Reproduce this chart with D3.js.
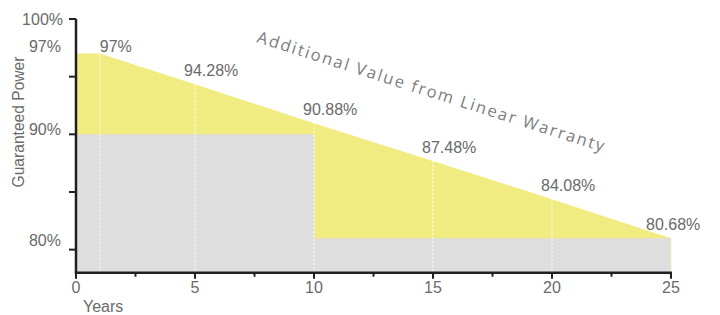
<!DOCTYPE html>
<html>
  <head>
    <meta charset="utf-8">
    <title>Linear Warranty</title>
    <style>
      body { margin: 0; background: #fff; }
      text { font-family: "Liberation Sans", Arial, sans-serif; }
    </style>
  </head>
  <body>
    <script src="https://d3js.org/d3.v7.min.js"></script>
    <script>
    // linear warranty curve (as drawn)
    var years = [0, 1, 5, 10, 15, 20, 25];
    var power = [97, 97, 94.34, 90.96, 87.69, 84.37, 80.98];
    var powerLabels = ["97%", "94.28%", "90.88%", "87.48%", "84.08%", "80.68%"];
    var labelYears = [1, 5, 10, 15, 20, 25];

    // step warranty (grey)
    var stepYears = [0, 10, 10, 25];
    var stepPower = [90, 90, 80.98, 80.98];

    var gridYears = [1, 5, 10, 15, 20];
    var xTicks = [0, 2.5, 5, 7.5, 10, 12.5, 15, 17.5, 20, 22.5, 25];
    var yTicks = [100, 95, 90, 85, 80];
    var yTickLabels = { 100: "100%", 90: "90%", 80: "80%" };

    var w = 720, h = 315;
    var svg = d3.select("body").append("svg")
                .attr("width", w)
                .attr("height", h);

    var x = d3.scaleLinear().domain([0, 25]).range([76, 671]);
    var y = d3.scaleLinear().domain([78, 100]).range([272.7, 19]);

    var linePts = years.map(function(d, i) { return {x: d, v: power[i]}; });
    var stepPts = stepYears.map(function(d, i) { return {x: d, v: stepPower[i]}; });

    var area = d3.area()
                 .x(function(d) { return x(d.x); })
                 .y0(y(78))
                 .y1(function(d) { return y(d.v); });

    svg.append("path")
       .datum(linePts)
       .attr("d", area)
       .attr("fill", "#f1ec82");

    svg.append("path")
       .datum(stepPts)
       .attr("d", area)
       .attr("fill", "#dedede");

    // vertical dotted lines
    gridYears.forEach(function(yr) {
      var i = years.indexOf(yr);
      svg.append("line")
         .attr("x1", x(yr)).attr("x2", x(yr))
         .attr("y1", y(power[i])).attr("y2", y(78))
         .attr("stroke", "#fff")
         .attr("stroke-width", 1)
         .attr("stroke-dasharray", "2,2");
    });
    svg.append("line")
       .attr("x1", x(25)).attr("x2", x(25))
       .attr("y1", y(power[power.length - 1])).attr("y2", y(78))
       .attr("stroke", "#f2f0bc")
       .attr("stroke-width", 1);

    // data labels
    svg.selectAll(".plabel")
       .data(powerLabels)
       .enter()
       .append("text")
       .attr("class", "plabel")
       .attr("x", function(d, i) {
          var yr = labelYears[i];
          var dx = i === 0 ? 0 : (i === powerLabels.length - 1 ? -25 : -11);
          return x(yr) + dx;
       })
       .attr("y", function(d, i) {
          var v = power[years.indexOf(labelYears[i])];
          return y(v) + (i === 0 ? -2 : -8);
       })
       .attr("font-size", 16)
       .attr("fill", "#6a6a6a")
       .text(function(d) { return d; });

    // annotation
    svg.append("text")
       .attr("transform", "translate(256,42) rotate(17.6)")
       .attr("font-size", 16.5)
       .attr("letter-spacing", 1.9)
       .attr("fill", "#7d7d7d")
       .style("font-family", "'Open Sans', sans-serif")
       .text("Additional Value from Linear Warranty");

    // x axis
    var xAxis = svg.append("g")
       .attr("transform", "translate(0," + y(78) + ")");
    xAxis.append("line")
       .attr("x1", x(0) - 1.2).attr("x2", x(25) + 1)
       .attr("stroke", "#231f20").attr("stroke-width", 2.5);
    xAxis.selectAll(".xt")
       .data(xTicks)
       .enter()
       .append("line")
       .attr("x1", function(d) { return x(d); })
       .attr("x2", function(d) { return x(d); })
       .attr("y1", 0)
       .attr("y2", function(d) { return d % 5 === 0 ? 6 : 4; })
       .attr("stroke", "#231f20").attr("stroke-width", 2);
    xAxis.selectAll(".xl")
       .data(xTicks.filter(function(d) { return d % 5 === 0; }))
       .enter()
       .append("text")
       .attr("x", function(d) { return x(d); })
       .attr("y", 20)
       .attr("text-anchor", "middle")
       .attr("font-size", 16)
       .attr("fill", "#6a6a6a")
       .text(function(d) { return d; });
    xAxis.append("text")
       .attr("x", 83)
       .attr("y", 39)
       .attr("font-size", 16)
       .attr("fill", "#6a6a6a")
       .text("Years");

    // y axis
    var yAxis = svg.append("g");
    yAxis.append("line")
       .attr("x1", x(0)).attr("x2", x(0))
       .attr("y1", y(100)).attr("y2", y(78))
       .attr("stroke", "#231f20").attr("stroke-width", 2.5);
    yAxis.selectAll(".yt")
       .data(yTicks)
       .enter()
       .append("line")
       .attr("x1", x(0) - 7).attr("x2", x(0))
       .attr("y1", function(d) { return y(d); })
       .attr("y2", function(d) { return y(d); })
       .attr("stroke", "#231f20").attr("stroke-width", 2);
    yAxis.selectAll(".yl")
       .data(yTicks.filter(function(d) { return yTickLabels[d]; }))
       .enter()
       .append("text")
       .attr("x", function(d) { return d === 100 ? 63 : 61; })
       .attr("y", function(d) { return y(d) + (d - 100) * 0.45; })
       .attr("dy", "0.35em")
       .attr("text-anchor", "end")
       .attr("font-size", 16)
       .attr("fill", "#6a6a6a")
       .text(function(d) { return yTickLabels[d]; });
    yAxis.append("text")
       .attr("x", 61)
       .attr("y", y(97) - 2)
       .attr("text-anchor", "end")
       .attr("font-size", 16)
       .attr("fill", "#6a6a6a")
       .text("97%");

    svg.append("text")
       .attr("transform", "translate(24,122) rotate(-90)")
       .attr("text-anchor", "middle")
       .attr("font-size", 15.6)
       .attr("fill", "#6a6a6a")
       .text("Guaranteed Power");
    </script>
  </body>
</html>
